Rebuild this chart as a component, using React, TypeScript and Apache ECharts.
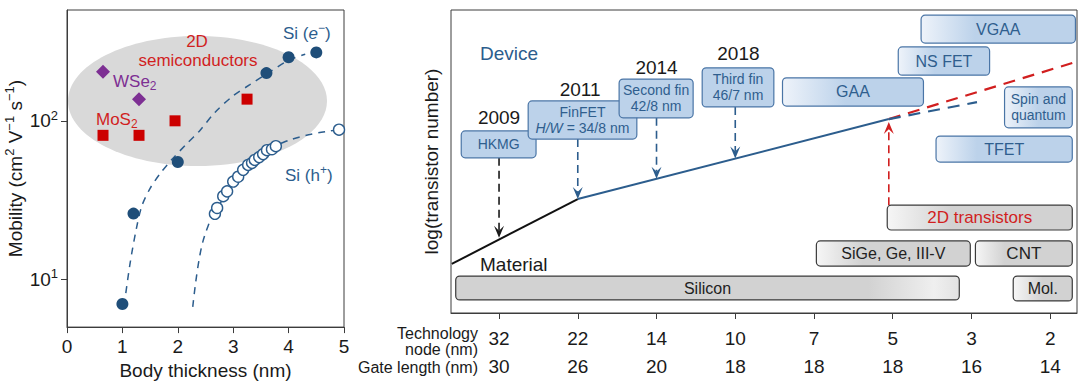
import React, { useEffect, useRef } from 'react';
import * as echarts from 'echarts';

const FONT = "'Liberation Sans', Arial, Helvetica, sans-serif";
const INK = '#1a1a1a';
const FRAME = '#3c3c3c';
const BLUE = '#2c5d8d';
const NAVY = '#1f4e79';
const RED = '#d11f1f';
const PURPLE = '#7d2f93';
const BOX_BLUE = '#bcd2ea';
const BOX_BLUE_EDGE = '#4a75a6';
const BOX_GRAY = '#d2d2d2';
const BOX_GRAY_EDGE = '#3a3a3a';

// ---------------- left panel: mobility vs body thickness ----------------
const siElectron = [[1.0, 7.0], [1.2, 26], [2.0, 55], [3.6, 200], [4.0, 252], [4.5, 270]];
const siElectronFit = [[1.03, 6.8], [1.14, 12.7], [1.25, 20.7], [1.35, 29], [1.5, 37.5], [1.68, 46.4], [1.9, 57.4], [2.15, 71], [2.4, 87], [2.67, 113], [2.98, 142], [3.3, 169], [3.61, 198], [4.0, 241], [4.3, 263]];
const siHole = [[2.67, 25.9], [2.71, 28.2], [2.82, 33.5], [2.89, 35.9], [3.0, 41.4], [3.09, 44.4], [3.18, 49.1], [3.27, 52.7], [3.34, 54.3], [3.39, 56.7], [3.47, 59.1], [3.54, 61.7], [3.61, 65.3], [3.7, 66.2], [3.77, 69.2], [4.91, 87.9]];
const siHoleFit = [[2.27, 6.7], [2.4, 14.3], [2.55, 21.9], [2.7, 27.5], [2.9, 36], [3.1, 45], [3.3, 53.5], [3.5, 60.5], [3.7, 67], [3.9, 73], [4.2, 79], [4.5, 83.5], [4.8, 87], [5.0, 90]];
const wse2 = [[0.65, 204], [1.3, 137]];
const mos2 = [[0.65, 81], [1.3, 81], [1.95, 100], [3.25, 137]];
const mobilityTicks = [10, 100];

// ---------------- right panel: roadmap ----------------
const nodes = ['32', '22', '14', '10', '7', '5', '3', '2'];
const gateLengths = ['30', '26', '20', '18', '18', '18', '16', '14'];
const tickIndex = nodes.map((_, i) => i);
const materialTrend = [[-0.6, 16.2], [1, 37.6]];
const deviceTrend = [[1, 37.6], [4.95, 64]];
const trend2D = [[4.95, 64], [7.28, 82.5]];
const trendSi = [[4.95, 64], [6.07, 69.6]];

const boxLabels = ['HKMG', 'FinFET\n{i|H/W} = 34/8 nm', 'Second fin\n42/8 nm', 'Third fin\n46/7 nm', 'GAA', 'NS FET', 'VGAA', 'Spin and\nquantum', 'TFET', '2D transistors', 'SiGe, Ge, III-V', 'CNT', 'Silicon', 'Mol.'];
const boxStart = [-0.48, 0.37, 1.525, 2.58, 3.6, 5.07, 5.36, 6.42, 5.55, 4.93, 4.03, 6.05, -0.55, 6.53];
const boxEnd = [0.47, 1.75, 2.465, 3.49, 5.39, 6.23, 7.32, 7.28, 7.28, 7.28, 5.985, 7.28, 5.845, 7.28];
const boxTop = [60.1, 70.0, 77.2, 80.9, 77.6, 87.8, 98.3, 74.6, 58.4, 35.6, 23.8, 23.8, 12.2, 12.2];
const boxBottom = [51.2, 57.4, 64.4, 68.0, 68.3, 78.5, 89.1, 61.1, 49.8, 27.4, 15.5, 15.5, 4.3, 4.0];
const boxKind = ['dev', 'dev', 'dev', 'dev', 'dev', 'dev', 'dev', 'dev', 'dev', 'red', 'mat', 'mat', 'mat', 'mat'];
const boxFade = [0, 0, 0, 0, 0.45, 0.4, 0.35, 0.5, 0.3, 0.35, 0.3, 0.3, -1, 0.5];
const boxFont = [14, 14, 14, 14, 16, 16, 16, 14, 16, 17, 16, 17, 16, 16];

const arrowX = [0, 1, 2, 3, 4.95];
const arrowFrom = [51.2, 57.4, 64.4, 68.0, 35.6];
const arrowTo = [24.8, 37.6, 44.3, 51.0, 63.0];
const arrowColor = [INK, BLUE, BLUE, BLUE, RED];

const years = ['2009', '2011', '2014', '2018'];
const yearX = [0, 1.03, 2.0, 3.04];
const yearY = [64.4, 73.6, 80.9, 85.5];

const axisText = { fontSize: 19, color: INK, fontFamily: FONT };

function buildOption(): any {
  const Grad = echarts.graphic.LinearGradient;
  const richSup = (size: number, color: string) => ({
    b: { fontSize: size, fontFamily: FONT, fill: color, color, lineHeight: size + 5 },
    i: { fontSize: size, fontFamily: FONT, fill: color, color, fontStyle: 'italic', lineHeight: size + 5 },
    s: { fontSize: Math.round(size * 0.68), fontFamily: FONT, fill: color, color, verticalAlign: 'top', lineHeight: Math.round(size * 0.68) },
    sub: { fontSize: Math.round(size * 0.68), fontFamily: FONT, fill: color, color, verticalAlign: 'bottom', lineHeight: Math.round(size * 0.68) },
  });
  const txt = (text: string, x: number, y: number, color: string, size: number, align = 'left', extra: any = {}) => ({
    type: 'text', x, y, z: 5, silent: true,
    style: { text, fill: color, fontSize: size, fontFamily: FONT, align, verticalAlign: 'middle', textAlign: align, textVerticalAlign: 'middle', ...extra },
  });

  return {
    animation: false,
    grid: [
      { left: 67, top: 10, width: 277, height: 323, show: true, borderColor: FRAME, borderWidth: 1, backgroundColor: 'transparent' },
      { left: 451, top: 10, width: 626, height: 303, show: true, borderColor: FRAME, borderWidth: 1, backgroundColor: 'transparent' },
    ],
    xAxis: [
      {
        gridIndex: 0, type: 'value', min: 0, max: 5, interval: 1,
        axisLine: { show: true, lineStyle: { color: FRAME } },
        axisTick: { show: true, length: 6, lineStyle: { color: FRAME } },
        axisLabel: { ...axisText, margin: 10 },
        splitLine: { show: false },
        name: 'Body thickness (nm)', nameLocation: 'middle', nameGap: 30, nameTextStyle: axisText,
      },
      {
        gridIndex: 1, type: 'value', min: -0.61, max: 7.34,
        axisLine: { show: true, lineStyle: { color: FRAME } },
        axisTick: { show: true, length: 6, customValues: tickIndex, lineStyle: { color: FRAME } },
        axisLabel: {
          ...axisText, margin: 11, lineHeight: 28, customValues: tickIndex,
          formatter: (v: number) => `${nodes[Math.round(v)]}\n${gateLengths[Math.round(v)]}`,
        },
        splitLine: { show: false },
      },
    ],
    yAxis: [
      {
        gridIndex: 0, type: 'log', logBase: 10, min: 5, max: 500,
        axisLine: { show: true, lineStyle: { color: FRAME } },
        axisTick: { show: true, length: 6, customValues: mobilityTicks, lineStyle: { color: FRAME } },
        axisLabel: {
          margin: 9, customValues: mobilityTicks,
          formatter: (v: number) => `{b|10}{s|${Math.round(Math.log10(v))}}`,
          rich: {
            b: { fontSize: 19, color: INK, fontFamily: FONT, lineHeight: 24 },
            s: { fontSize: 13, color: INK, fontFamily: FONT, verticalAlign: 'top', lineHeight: 13 },
          },
        },
        splitLine: { show: false },
        name: '{b|Mobility (cm}{s|2}{b| V}{s|−1}{b| s}{s|−1}{b|)}', nameLocation: 'middle', nameGap: 40,
        nameTextStyle: {
          rich: {
            b: { fontSize: 19, color: INK, fontFamily: FONT, lineHeight: 24 },
            s: { fontSize: 13, color: INK, fontFamily: FONT, verticalAlign: 'top', lineHeight: 13 },
          },
        },
      },
      {
        gridIndex: 1, type: 'value', min: 0, max: 100,
        axisLine: { show: false }, axisTick: { show: false }, axisLabel: { show: false }, splitLine: { show: false },
        name: 'log(transistor number)', nameLocation: 'middle', nameGap: 10, nameTextStyle: axisText,
      },
    ],
    graphic: [
      { type: 'ellipse', z: 0, silent: true, shape: { cx: 197.5, cy: 101, rx: 129.5, ry: 65 }, style: { fill: '#d9d9d9' } },
      txt('2D', 197, 41, RED, 17, 'center'),
      txt('semiconductors', 198, 60, RED, 17, 'center'),
      txt('{b|Si (}{i|e}{s|−}{b|)}', 283, 33, BLUE, 17, 'left', { rich: richSup(17, BLUE) }),
      txt('{b|Si (h}{s|+}{b|)}', 285, 175, BLUE, 17, 'left', { rich: richSup(17, BLUE) }),
      txt('{b|WSe}{sub|2}', 113, 81, PURPLE, 17, 'left', { rich: richSup(17, PURPLE) }),
      txt('{b|MoS}{sub|2}', 96, 119, RED, 17, 'left', { rich: richSup(17, RED) }),
      txt('Device', 480, 53, BLUE, 19),
      txt('Material', 480, 264, INK, 19),
      txt('Technology\nnode (nm)', 478, 341, INK, 16, 'right', { lineHeight: 16 }),
      txt('Gate length (nm)', 478, 367, INK, 16, 'right'),
    ],
    series: [
      // left panel
      { type: 'line', xAxisIndex: 0, yAxisIndex: 0, data: siElectronFit, smooth: 0.3, symbol: 'none', lineStyle: { color: BLUE, width: 1.5, type: [7, 6] }, z: 2 },
      { type: 'line', xAxisIndex: 0, yAxisIndex: 0, data: siHoleFit, smooth: 0.4, symbol: 'none', lineStyle: { color: BLUE, width: 1.5, type: [7, 6] }, z: 2 },
      { type: 'scatter', xAxisIndex: 0, yAxisIndex: 0, data: siHole, symbol: 'circle', symbolSize: 11, itemStyle: { color: '#ffffff', borderColor: BLUE, borderWidth: 1.4, opacity: 1 }, z: 3 },
      { type: 'scatter', xAxisIndex: 0, yAxisIndex: 0, data: siElectron, symbol: 'circle', symbolSize: 12, itemStyle: { color: NAVY, opacity: 1 }, z: 3 },
      { type: 'scatter', xAxisIndex: 0, yAxisIndex: 0, data: wse2, symbol: 'diamond', symbolSize: 14, itemStyle: { color: PURPLE, opacity: 1 }, z: 3 },
      { type: 'scatter', xAxisIndex: 0, yAxisIndex: 0, data: mos2, symbol: 'rect', symbolSize: 11, itemStyle: { color: '#cc0000', opacity: 1 }, z: 3 },
      // right panel trends
      { type: 'line', xAxisIndex: 1, yAxisIndex: 1, data: materialTrend, symbol: 'none', lineStyle: { color: '#111', width: 2 }, z: 2 },
      { type: 'line', xAxisIndex: 1, yAxisIndex: 1, data: deviceTrend, symbol: 'none', lineStyle: { color: BLUE, width: 2 }, z: 2 },
      { type: 'line', xAxisIndex: 1, yAxisIndex: 1, data: trend2D, symbol: 'none', lineStyle: { color: RED, width: 2.2, type: [12, 8] }, z: 2 },
      { type: 'line', xAxisIndex: 1, yAxisIndex: 1, data: trendSi, symbol: 'none', lineStyle: { color: BLUE, width: 2.2, type: [12, 8] }, z: 2 },
      // boxes
      {
        type: 'custom', xAxisIndex: 1, yAxisIndex: 1, z: 4,
        data: boxLabels.map((_, i) => [boxStart[i], boxEnd[i], boxTop[i], boxBottom[i], i]),
        renderItem: (params: any, api: any) => {
          const k = api.value(4);
          const p0 = api.coord([api.value(0), api.value(2)]);
          const p1 = api.coord([api.value(1), api.value(3)]);
          const x = p0[0], y = p0[1], w = p1[0] - p0[0], h = p1[1] - p0[1];
          const dev = boxKind[k] === 'dev';
          const base = dev ? BOX_BLUE : BOX_GRAY;
          const light = dev ? '#eef3fa' : '#f6f6f6';
          const f = boxFade[k];
          let fill: any = base;
          if (f > 0) fill = new Grad(0, 0, 1, 0, [{ offset: 0, color: light }, { offset: f, color: base }, { offset: 1, color: base }]);
          else if (f < 0) fill = new Grad(0, 0, 1, 0, [{ offset: 0, color: base }, { offset: 0.82, color: base }, { offset: 0.95, color: '#efefef' }, { offset: 1, color: '#e2e2e2' }]);
          const tc = dev ? '#2f5e8e' : boxKind[k] === 'red' ? RED : '#222';
          const fs = boxFont[k];
          return {
            type: 'group',
            children: [
              { type: 'rect', shape: { x, y, width: w, height: h, r: 4 }, style: { fill, stroke: dev ? BOX_BLUE_EDGE : BOX_GRAY_EDGE, lineWidth: 1.2 } },
              {
                type: 'text',
                style: {
                  text: boxLabels[k], x: x + w / 2, y: y + h / 2, align: 'center', verticalAlign: 'middle', textAlign: 'center', textVerticalAlign: 'middle',
                  fill: tc, fontSize: fs, fontFamily: FONT, lineHeight: fs + 2,
                  rich: { i: { fontStyle: 'italic', fontSize: fs, fontFamily: FONT, fill: tc, lineHeight: fs + 2 } },
                },
              },
            ],
          };
        },
      },
      // arrows
      {
        type: 'custom', xAxisIndex: 1, yAxisIndex: 1, z: 3,
        data: arrowX.map((x, i) => [x, arrowFrom[i], arrowTo[i], i]),
        renderItem: (params: any, api: any) => {
          const k = api.value(3);
          const p0 = api.coord([api.value(0), api.value(1)]);
          const p1 = api.coord([api.value(0), api.value(2)]);
          const dir = p1[1] > p0[1] ? 1 : -1;
          const hl = 12, hw = 5;
          const c = arrowColor[k];
          return {
            type: 'group',
            children: [
              { type: 'line', shape: { x1: p0[0], y1: p0[1], x2: p1[0], y2: p1[1] - dir * hl * 0.6 }, style: { stroke: c, lineWidth: 1.6, lineDash: [8, 5] } },
              { type: 'polygon', shape: { points: [[p1[0], p1[1]], [p1[0] - hw, p1[1] - dir * hl], [p1[0], p1[1] - dir * hl * 0.6], [p1[0] + hw, p1[1] - dir * hl]] }, style: { fill: c } },
            ],
          };
        },
      },
      // year labels
      {
        type: 'custom', xAxisIndex: 1, yAxisIndex: 1, z: 5,
        data: years.map((_, i) => [yearX[i], yearY[i], i]),
        renderItem: (params: any, api: any) => {
          const p = api.coord([api.value(0), api.value(1)]);
          return {
            type: 'text',
            style: { text: years[api.value(2)], x: p[0], y: p[1], align: 'center', verticalAlign: 'middle', textAlign: 'center', textVerticalAlign: 'middle', fill: INK, fontSize: 19, fontFamily: FONT },
          };
        },
      },
    ],
  };
}

export default function App() {
  const ref = useRef<HTMLDivElement>(null);
  useEffect(() => {
    document.body.style.margin = '0';
    const chart = echarts.init(ref.current!, null, { renderer: 'svg' });
    chart.setOption(buildOption());
    return () => chart.dispose();
  }, []);
  return <div ref={ref} style={{ width: 1080, height: 385 }} />;
}
